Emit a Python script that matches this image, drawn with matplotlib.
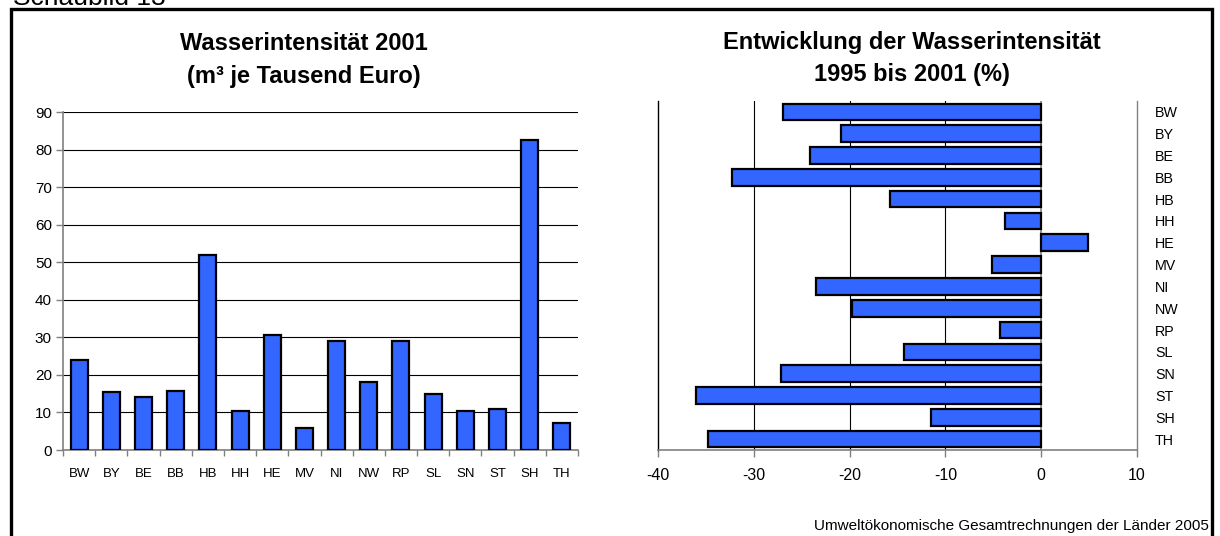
import numpy as np
import matplotlib
matplotlib.use("Agg")
import matplotlib.pyplot as plt
from matplotlib.patches import Rectangle

plt.rcParams['font.family'] = ['Liberation Sans', 'DejaVu Sans']
plt.rcParams['axes.unicode_minus'] = False

laender = ["BW", "BY", "BE", "BB", "HB", "HH", "HE", "MV",
           "NI", "NW", "RP", "SL", "SN", "ST", "SH", "TH"]
# Wasserintensitaet 2001, m3 je 1000 Euro
intensitaet = [23.9, 15.4, 14.1, 15.6, 51.9, 10.4, 30.6, 5.9,
               29.0, 18.1, 29.1, 14.8, 10.4, 11.0, 82.5, 7.3]
# Veraenderung 1995 bis 2001 in %
veraenderung = [-26.9, -20.9, -24.1, -32.3, -15.8, -3.8, 4.9, -5.1,
                -23.5, -19.8, -4.3, -14.3, -27.2, -36.0, -11.5, -34.8]

blau = "#3366ff"
W, H = 1220, 536
fig = plt.figure(figsize=(W / 100, H / 100), dpi=100)

def box(x0, y0, x1, y1):
    # pixel coords (top-left origin) -> figure fraction
    return [x0 / W, (H - y1) / H, (x1 - x0) / W, (y1 - y0) / H]

# Rahmen
fig.add_artist(Rectangle((11 / W, -0.05), (1212 - 11) / W, (H - 9) / H + 0.05,
                         transform=fig.transFigure, fill=False,
                         edgecolor="black", linewidth=2.4, clip_on=False))
# Ueberschrift oben ist im Original abgeschnitten
fig.text(13 / W, (H - 5) / H, "Schaubild 13", fontsize=19, ha="left", va="baseline")

# linkes Diagramm
ax1 = fig.add_axes(box(63, 112, 578, 450))
x = np.arange(len(laender))
ax1.bar(x, intensitaet, width=0.53, color=blau, edgecolor="black", linewidth=1.6, zorder=3)
ax1.set_xlim(-0.5, len(laender) - 0.5)
ax1.set_ylim(0, 90)
ax1.set_yticks(range(0, 91, 10))
ax1.yaxis.grid(True, color="black", linewidth=0.8, zorder=0)
ax1.set_xticks(x)
ax1.set_xticklabels(laender, fontsize=9.5)
ax1.set_xticks(np.arange(-0.5, len(laender)), minor=True)
ax1.tick_params(axis="x", which="major", length=0, pad=13)
ax1.tick_params(axis="x", which="minor", length=4, color="gray", width=1)
ax1.tick_params(axis="y", length=5, color="gray", width=1, labelsize=11, pad=3)
for s in ["top", "right"]:
    ax1.spines[s].set_visible(False)
ax1.spines["left"].set_color("gray")
ax1.spines["bottom"].set_color("gray")
ax1.spines["left"].set_linewidth(1.2)
ax1.spines["bottom"].set_linewidth(1.2)
fig.text(304 / W, (H - 44) / H, "Wasserintensität 2001", fontsize=17,
         fontweight="bold", ha="center", va="center")
fig.text(304 / W, (H - 77) / H, "(m³ je Tausend Euro)", fontsize=17,
         fontweight="bold", ha="center", va="center")

# rechtes Diagramm
ax2 = fig.add_axes(box(658, 101, 1137, 450))
y = np.arange(len(laender))
ax2.barh(y, veraenderung, height=0.76, color=blau, edgecolor="black", linewidth=1.6, zorder=3)
ax2.set_xlim(-40, 10)
ax2.set_ylim(len(laender) - 0.5, -0.5)
ax2.set_xticks(range(-40, 11, 10))
for v in [-30, -20, -10]:
    ax2.axvline(v, color="black", linewidth=0.8, zorder=0)
ax2.axvline(0, color="gray", linewidth=1.2, zorder=1)
ax2.yaxis.tick_right()
ax2.set_yticks(y)
ax2.set_yticklabels(laender, fontsize=10.3)
ax2.tick_params(axis="y", length=0, pad=13)
ax2.tick_params(axis="x", length=5, color="gray", width=1, labelsize=11.5, pad=8)
ax2.spines["top"].set_visible(False)
ax2.spines["left"].set_color("black")
ax2.spines["left"].set_linewidth(1)
ax2.spines["right"].set_color("gray")
ax2.spines["right"].set_linewidth(1)
ax2.spines["bottom"].set_color("gray")
ax2.spines["bottom"].set_linewidth(1.2)
fig.text(912 / W, (H - 43) / H, "Entwicklung der Wasserintensität", fontsize=17,
         fontweight="bold", ha="center", va="center")
fig.text(912 / W, (H - 74) / H, "1995 bis 2001 (%)", fontsize=17,
         fontweight="bold", ha="center", va="center")

fig.text(1209 / W, (H - 526) / H, "Umweltökonomische Gesamtrechnungen der Länder 2005",
         fontsize=11, ha="right", va="center")

fig.savefig("out.png", dpi=100)
